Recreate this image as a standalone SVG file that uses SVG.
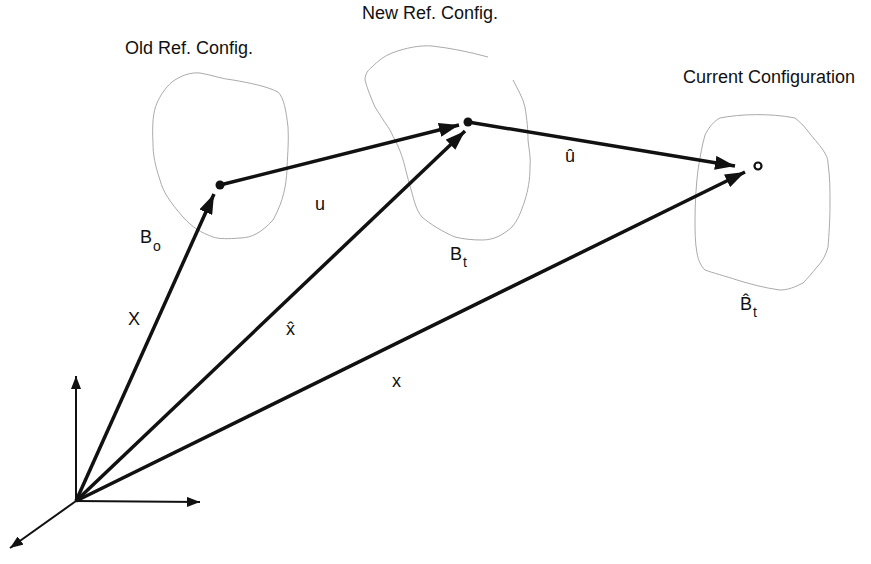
<svg xmlns="http://www.w3.org/2000/svg" width="871" height="564" viewBox="0 0 871 564">
  <style>
    .lbl { font-family: "Liberation Sans", Arial, sans-serif; font-size: 18px; fill: #111; }
    .sub { font-family: "Liberation Sans", Arial, sans-serif; font-size: 14px; fill: #111; }
    .blob { fill: none; stroke: #a0a0a0; stroke-width: 0.9; }
    .vec { stroke: #111; stroke-width: 3.5; fill: none; }
    .axis { stroke: #111; stroke-width: 2; fill: none; }
  </style>
  <defs>
    <marker id="head" markerUnits="userSpaceOnUse" markerWidth="22" markerHeight="14" refX="20" refY="7" orient="auto">
      <path d="M0,0 L20,7 L0,14 z" fill="#111"/>
    </marker>
    <marker id="axhead" markerUnits="userSpaceOnUse" markerWidth="14" markerHeight="10" refX="13" refY="5" orient="auto">
      <path d="M0,0 L13,5 L0,10 z" fill="#111"/>
    </marker>
  </defs>

  <!-- configuration outlines -->
  <g id="old-ref">
    <path class="blob" d="M172,82 C180,76 190,72 200,73 C212,75 222,79 233,80 C250,83 266,86 278,92 C284,98 286,110 288,127 C289,145 287,160 287,170 C286,185 284,200 273,220 C262,232 252,238 240,238 C228,239 219,239 213,237 C200,232 193,228 183,217 C170,202 163,192 160,180 C155,165 153,155 153,143 C152,125 153,112 157,103 C160,96 165,88 172,82 Z"/>
    <text class="lbl" x="125" y="54">Old Ref. Config.</text>
    <text class="lbl" x="140" y="243">B</text>
    <text class="sub" x="153" y="251">o</text>
  </g>
  <g id="new-ref">
    <path class="blob" d="M372,67 C378,61 384,56 392,53 C405,48 420,45 432,46 C450,48 470,52 488,57"/>
    <path class="blob" d="M513,80 C518,90 523,98 525,107 C527,120 528,130 528,140 C529,150 531,158 530,167 C530,180 528,190 525,200 C521,212 518,220 512,227 C503,235 494,240 482,240 C472,240 463,239 455,237 C443,232 430,224 422,217 C416,210 414,200 412,193 C409,183 407,175 405,167 C402,155 399,148 395,140 C392,135 391,131 388,127 C383,120 379,113 375,107 C371,98 367,88 365,80 C365,74 368,70 372,67"/>
    <text class="lbl" x="362" y="19">New Ref. Config.</text>
    <text class="lbl" x="450" y="260">B</text>
    <text class="sub" x="463" y="267">t</text>
  </g>
  <g id="current">
    <path class="blob" d="M720,118 C740,114 770,113 795,118 C800,122 804,126 807,130 C813,138 819,144 823,150 C826,155 828,158 828,163 C830,178 830,190 830,203 C830,220 829,235 828,247 C826,255 822,262 817,267 C812,273 808,278 803,283 C795,287 788,290 780,290 C765,288 750,284 737,280 C725,276 713,273 705,270 C700,265 698,259 697,253 C695,243 695,230 695,220 C695,205 696,185 698,170 C700,158 702,145 705,135 C709,127 714,121 720,118 Z"/>
    <text class="lbl" x="683" y="83">Current Configuration</text>
    <text class="lbl" x="740" y="310">B&#x302;</text>
    <text class="sub" x="753" y="317">t</text>
  </g>

  <!-- position and displacement vectors, plus the frame axes -->
  <g id="connectors">
    <line class="axis" x1="76" y1="501" x2="76" y2="376" marker-end="url(#axhead)"/>
    <line class="axis" x1="76" y1="501" x2="200" y2="502" marker-end="url(#axhead)"/>
    <line class="axis" x1="76" y1="501" x2="10" y2="548" marker-end="url(#axhead)"/>
    <line class="vec" x1="76" y1="501" x2="214" y2="194" marker-end="url(#head)"/>
    <line class="vec" x1="76" y1="501" x2="465" y2="131" marker-end="url(#head)"/>
    <line class="vec" x1="76" y1="501" x2="745" y2="172" marker-end="url(#head)"/>
    <line class="vec" x1="220" y1="185" x2="459" y2="125" marker-end="url(#head)"/>
    <line class="vec" x1="468" y1="122" x2="735" y2="166" marker-end="url(#head)"/>
    <circle cx="220" cy="185" r="4.5" fill="#111"/>
    <circle cx="468" cy="122" r="4.5" fill="#111"/>
    <circle cx="758" cy="166" r="3.5" fill="#fff" stroke="#111" stroke-width="2.2"/>
    <text class="lbl" x="128" y="325">X</text>
    <text class="lbl" x="286" y="335">x&#x302;</text>
    <text class="lbl" x="392" y="387">x</text>
    <text class="lbl" x="315" y="210">u</text>
    <text class="lbl" x="565" y="162">û</text>
  </g>
</svg>
